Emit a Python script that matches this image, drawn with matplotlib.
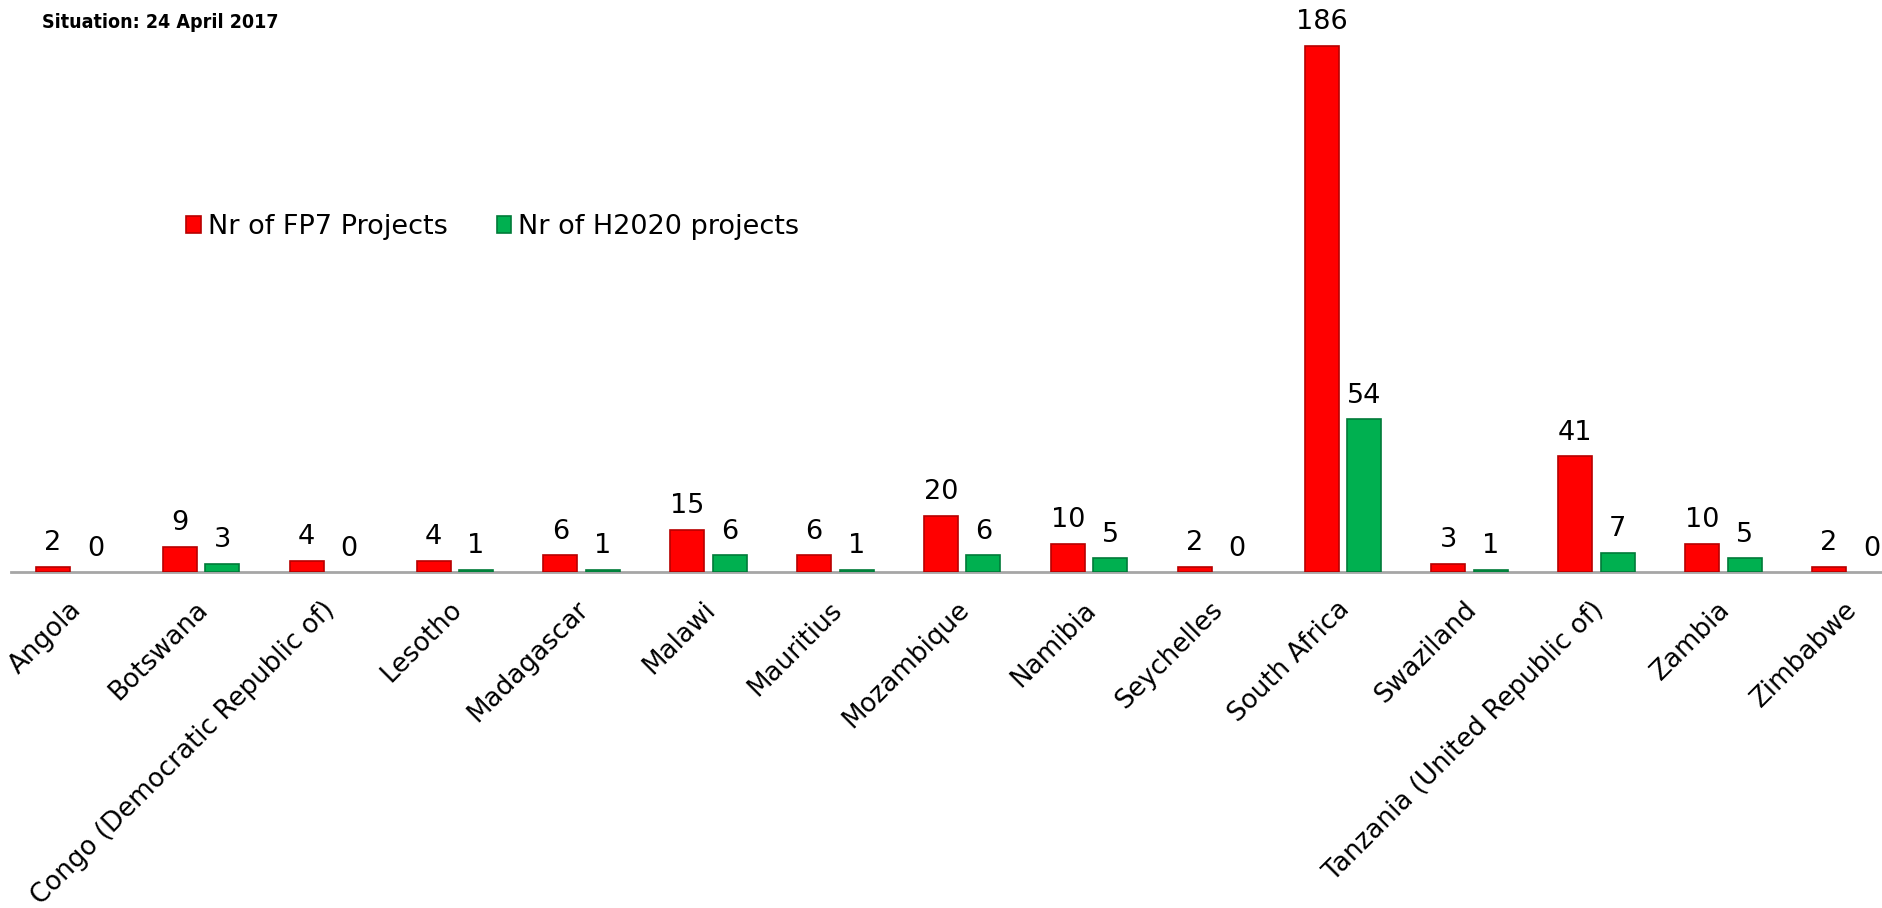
import matplotlib
matplotlib.use("Agg")
import matplotlib.pyplot as plt
import matplotlib.transforms as mtransforms
import numpy as np

countries = ["Angola", "Botswana", "Congo (Democratic Republic of)", "Lesotho",
             "Madagascar", "Malawi", "Mauritius", "Mozambique", "Namibia",
             "Seychelles", "South Africa", "Swaziland",
             "Tanzania (United Republic of)", "Zambia", "Zimbabwe"]
fp7 = [2, 9, 4, 4, 6, 15, 6, 20, 10, 2, 186, 3, 41, 10, 2]
h2020 = [0, 3, 0, 1, 1, 6, 1, 6, 5, 0, 54, 1, 7, 5, 0]
series_names = ["Nr of FP7 Projects", "Nr of H2020 projects"]
title_text = "Situation: 24 April 2017"

W, H = 1883, 908
plt.rcParams['font.family'] = ['DejaVu Sans']
fig = plt.figure(figsize=(W / 100, H / 100), dpi=100)

cat_px = 126.86
left_px = 10.8
base_px = 572.4
unit_px = 2.832
ymax = 200
ax = fig.add_axes([left_px / W, 1 - base_px / H, 15 * cat_px / W, ymax * unit_px / H])

x = np.arange(len(countries))
bw = 0.268
off = 0.1675
red_face, red_edge = "#FF0000", "#B80000"
grn_face, grn_edge = "#00B050", "#007A38"

fp7_plot = [v if v > 0 else np.nan for v in fp7]
h20_plot = [v if v > 0 else np.nan for v in h2020]
ax.bar(x - off, fp7_plot, bw, color=red_face, edgecolor=red_edge, linewidth=1.2,
       label=series_names[0], zorder=3)
ax.bar(x + off, h20_plot, bw, color=grn_face, edgecolor=grn_edge, linewidth=1.2,
       label=series_names[1], zorder=3)

for xi, v in zip(x, fp7):
    ax.annotate(str(v), (xi - off, v), xytext=(0, 12), textcoords="offset points",
                ha="center", va="baseline", fontsize=19.5, color="black")
for xi, v in zip(x, h2020):
    ax.annotate(str(v), (xi + off, v), xytext=(0, 12), textcoords="offset points",
                ha="center", va="baseline", fontsize=19.5, color="black")

ax.set_xlim(-0.5, len(countries) - 0.5)
ax.set_ylim(0, ymax)
for s in ["top", "right", "left"]:
    ax.spines[s].set_visible(False)
ax.spines["bottom"].set_color("#A6A6A6")
ax.spines["bottom"].set_linewidth(2)
ax.set_yticks([])
ax.set_xticks(x)
ax.set_xticklabels(countries, rotation=45, ha="right", va="center",
                   rotation_mode="anchor", fontsize=18.8)
ax.tick_params(axis="x", length=0, pad=24)
shift = mtransforms.ScaledTranslation(3 / 100, 0, fig.dpi_scale_trans)
for lab in ax.get_xticklabels():
    lab.set_transform(lab.get_transform() + shift)
ax.set_facecolor("none")

fig.legend(loc="center left", bbox_to_anchor=(186 / W, 1 - 227 / H),
           ncol=2, frameon=False, fontsize=19.5, handlelength=0.55,
           handleheight=0.55, handletextpad=0.26, columnspacing=1.8,
           borderpad=0, borderaxespad=0)

fig.text(42 / W, 1 - 23 / H, title_text, fontsize=14, fontweight="bold",
         fontstretch="condensed", family=["DejaVu Sans"], ha="left", va="center")

fig.savefig("out.png", dpi=100)
